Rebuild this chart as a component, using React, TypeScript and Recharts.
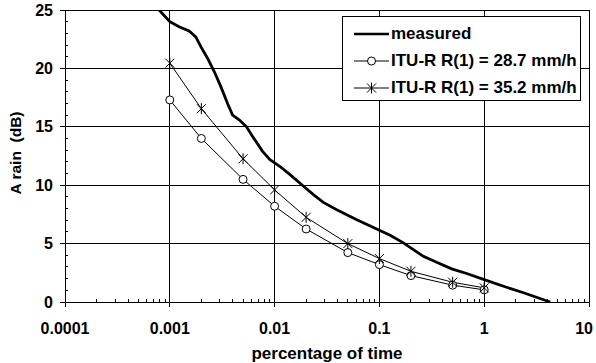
import { LineChart, Line, XAxis, YAxis, ReferenceLine, Legend } from 'recharts';

// measured curve: percentage of time (%) vs attenuation (dB)
const MEASURED_P = [
  0.000791, 0.001, 0.001227, 0.001528, 0.00177, 0.001977, 0.002291, 0.002655, 0.003069,
  0.003556, 0.003972, 0.004592, 0.005395, 0.006166, 0.007674, 0.009036, 0.01127, 0.01403,
  0.01816, 0.02344, 0.02917, 0.03917, 0.06081, 0.1, 0.1265, 0.1694, 0.2109, 0.263, 0.3516,
  0.4898, 0.6808, 1, 1.528, 2.371, 4.266,
];
const MEASURED_A = [
  25.0, 24.0, 23.57, 23.2, 22.7, 21.86, 20.87, 19.73, 18.44, 17.0, 16.0, 15.6, 15.0, 14.17,
  12.9, 12.18, 11.6, 10.9, 10.04, 9.19, 8.53, 7.9, 7.05, 6.15, 5.71, 5.06, 4.49, 3.91, 3.4,
  2.84, 2.44, 1.92, 1.35, 0.79, 0.0,
];

// ITU-R prediction points
const ITU_P = [0.001, 0.002, 0.005, 0.01, 0.02, 0.05, 0.1, 0.2, 0.5, 1];
const ITU_287 = [17.3, 14.0, 10.5, 8.2, 6.25, 4.23, 3.2, 2.26, 1.44, 1.04];
const ITU_352 = [20.45, 16.55, 12.26, 9.6, 7.25, 5.0, 3.72, 2.63, 1.69, 1.21];

const X_MAJOR = [0.0001, 0.001, 0.01, 0.1, 1, 10];
const X_LABELS = ['0.0001', '0.001', '0.01', '0.1', '1', '10'];
const X_MINOR = X_MAJOR.slice(0, -1).flatMap(d => [2, 3, 4, 5, 6, 7, 8, 9].map(m => d * m));
const Y_MAJOR = [0, 5, 10, 15, 20, 25];
const Y_ALL = Array.from({ length: 26 }, (_, i) => i);

const LEGEND_ITEMS = [
  { name: 'measured', marker: 'none' },
  { name: 'ITU-R R(1) = 28.7 mm/h', marker: 'circle' },
  { name: 'ITU-R R(1) = 35.2 mm/h', marker: 'star' },
];

const FONT = '"Liberation Sans", Arial, sans-serif';

const measured = MEASURED_P.map((p, i) => ({ p, a: MEASURED_A[i] }));
const ituLow = ITU_P.map((p, i) => ({ p, a: ITU_287[i] }));
const ituHigh = ITU_P.map((p, i) => ({ p, a: ITU_352[i] }));

function Circle({ cx, cy }: any) {
  if (cx == null || cy == null) return null;
  return <circle cx={cx} cy={cy} r={4} fill="#fff" stroke="#000" strokeWidth={1} />;
}

function Star({ cx, cy }: any) {
  if (cx == null || cy == null) return null;
  const s = 4.5;
  return (
    <g stroke="#000" strokeWidth={1}>
      <line x1={cx - s} y1={cy - s} x2={cx + s} y2={cy + s} />
      <line x1={cx - s} y1={cy + s} x2={cx + s} y2={cy - s} />
      <line x1={cx} y1={cy - s - 1} x2={cx} y2={cy + s + 1} />
    </g>
  );
}

function XTick({ x, y, payload }: any) {
  const idx = X_MAJOR.indexOf(payload.value);
  if (idx < 0) return <line x1={x} x2={x} y1={y} y2={y - 3} stroke="#000" shapeRendering="crispEdges" />;
  // last label sits at the right edge of the picture, keep it inside
  const last = idx === X_MAJOR.length - 1;
  return (
    <g>
      <line x1={x} x2={x} y1={y} y2={y + 5} stroke="#000" shapeRendering="crispEdges" />
      <text x={last ? x + 4 : x} y={y + 26} textAnchor={last ? 'end' : 'middle'} dominantBaseline="central"
        fontFamily={FONT} fontWeight="bold" fontSize={16} fill="#000">{X_LABELS[idx]}</text>
    </g>
  );
}

function YTick({ x, y, payload }: any) {
  if (!Y_MAJOR.includes(payload.value)) {
    return <line x1={x} x2={x + 3} y1={y} y2={y} stroke="#000" shapeRendering="crispEdges" />;
  }
  return (
    <g>
      <line x1={x - 5} x2={x} y1={y} y2={y} stroke="#000" shapeRendering="crispEdges" />
      <text x={x - 12} y={y} textAnchor="end" dominantBaseline="central"
        fontFamily={FONT} fontWeight="bold" fontSize={16} fill="#000">{payload.value}</text>
    </g>
  );
}

function LegendBox() {
  return (
    <div style={{
      border: '1px solid #000', background: '#fff', width: 239, height: 85, boxSizing: 'border-box',
      paddingTop: 3, fontFamily: FONT, fontWeight: 'bold', fontSize: 17, color: '#000',
    }}>
      {LEGEND_ITEMS.map(item => (
        <div key={item.name} style={{ height: 27, display: 'flex', alignItems: 'center' }}>
          <svg width={48} height={14} style={{ flex: 'none' }}>
            <line x1={11} x2={46} y1={7} y2={7} stroke="#000" strokeWidth={item.marker === 'none' ? 2.5 : 1} />
            {item.marker === 'circle' && <Circle cx={28.5} cy={7} />}
            {item.marker === 'star' && <Star cx={28.5} cy={7} />}
          </svg>
          <span style={{ whiteSpace: 'nowrap' }}>{item.name}</span>
        </div>
      ))}
    </div>
  );
}

export default function App() {
  return (
    <div style={{ position: 'absolute', left: 0, top: 0 }}>
      <style>{'body{margin:0}'}</style>
      <LineChart width={596} height={363} margin={{ top: 10, right: 7, left: 0, bottom: 0 }}>
        <XAxis
          dataKey="p" type="number" scale="log" domain={[0.0001, 10]} ticks={[...X_MAJOR, ...X_MINOR]}
          interval={0} allowDataOverflow height={61} tickLine={false} tickSize={0} tickMargin={0}
          axisLine={{ stroke: '#000', shapeRendering: 'crispEdges' }} tick={<XTick />}
          label={(p: any) => {
            const vb = p.viewBox || {};
            return (
              <text x={vb.x + vb.width / 2} y={vb.y + 51} textAnchor="middle" dominantBaseline="central"
                fontFamily={FONT} fontWeight="bold" fontSize={17} fill="#000">percentage of time</text>
            );
          }}
        />
        <YAxis
          dataKey="a" type="number" domain={[0, 25]} ticks={Y_ALL} interval={0} allowDataOverflow
          width={65} tickLine={false} tickSize={0} tickMargin={0}
          axisLine={{ stroke: '#000', shapeRendering: 'crispEdges' }} tick={<YTick />}
          label={(p: any) => {
            const vb = p.viewBox || {};
            const cx = vb.x + 15;
            const cy = vb.y + vb.height / 2 - 3;
            return (
              <text x={cx} y={cy} transform={`rotate(-90 ${cx} ${cy})`} textAnchor="middle" dominantBaseline="central"
                fontFamily={FONT} fontWeight="bold" fontSize={15.5} fill="#000" style={{ whiteSpace: 'pre' }}>A rain  (dB)</text>
            );
          }}
        />
        {X_MAJOR.slice(1).map(v => (
          <ReferenceLine key={'x' + v} x={v} stroke="#000" strokeWidth={1} shapeRendering="crispEdges" />
        ))}
        {Y_MAJOR.slice(1).map(v => (
          <ReferenceLine key={'y' + v} y={v} stroke="#000" strokeWidth={1} shapeRendering="crispEdges" />
        ))}
        <Legend
          layout="horizontal" verticalAlign="middle" align="center" content={<LegendBox />}
          wrapperStyle={{ left: 342, top: 16, width: 239, height: 85 }}
        />
        <Line data={ituLow} dataKey="a" name="ITU-R R(1) = 28.7 mm/h" stroke="#000" strokeWidth={1}
          dot={<Circle />} isAnimationActive={false} />
        <Line data={ituHigh} dataKey="a" name="ITU-R R(1) = 35.2 mm/h" stroke="#000" strokeWidth={1}
          dot={<Star />} isAnimationActive={false} />
        <Line data={measured} dataKey="a" name="measured" stroke="#000" strokeWidth={2.8}
          dot={false} isAnimationActive={false} />
      </LineChart>
    </div>
  );
}
